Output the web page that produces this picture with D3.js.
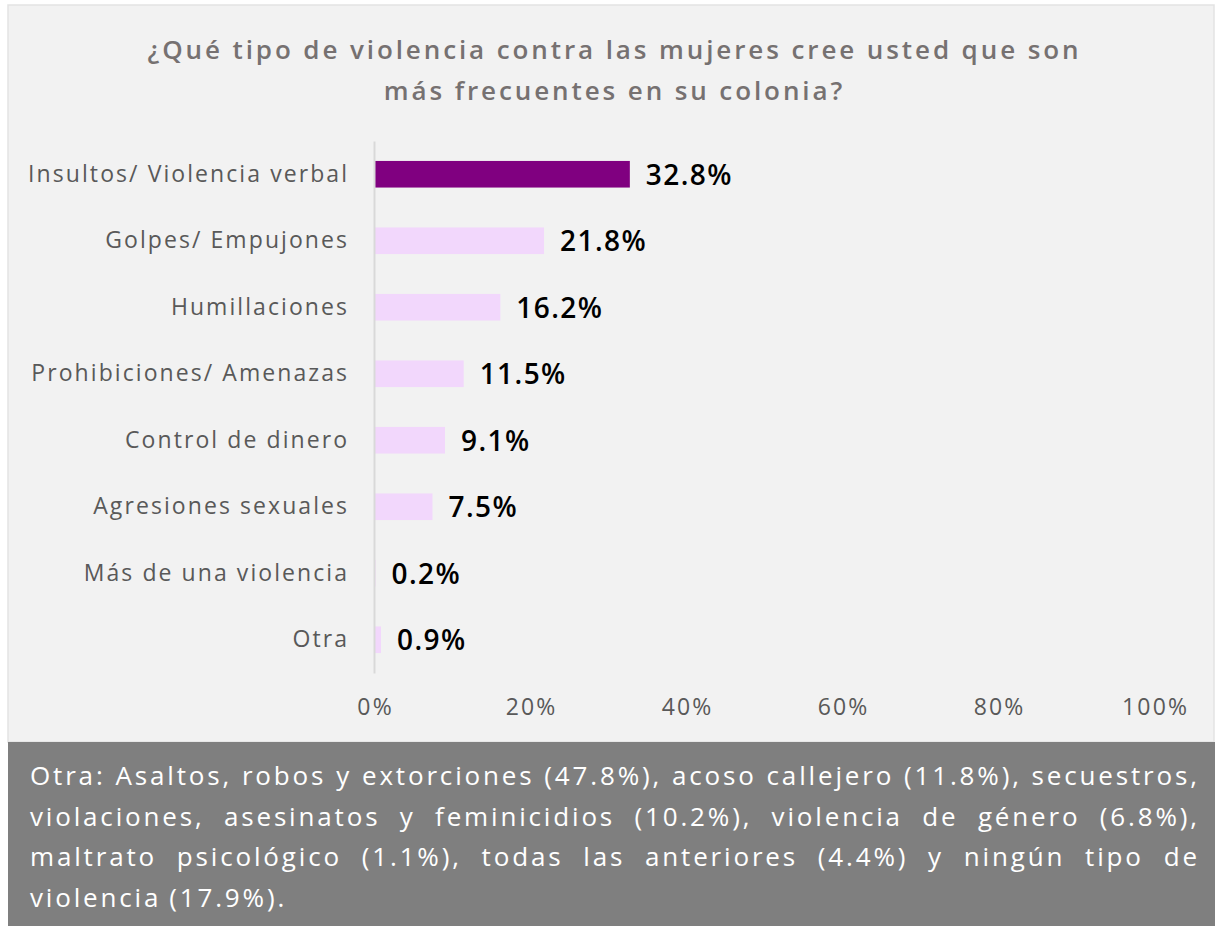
<!DOCTYPE html>
<html>
<head>
<meta charset="utf-8">
<script src="https://cdn.jsdelivr.net/npm/d3@7"></script>
<style>
  body { margin: 0; background: #fff; }
  svg { display: block; }
</style>
</head>
<body>
<div id="chart"></div>
<script>
// data
var categories = ["Insultos/ Violencia verbal", "Golpes/ Empujones", "Humillaciones",
  "Prohibiciones/ Amenazas", "Control de dinero", "Agresiones sexuales",
  "Más de una violencia", "Otra"];
var values = [32.8, 21.8, 16.2, 11.5, 9.1, 7.5, 0.2, 0.9];
var xTicks = [0, 20, 40, 60, 80, 100];
var titleLines = ["¿Qué tipo de violencia contra las mujeres cree usted que son",
  "más frecuentes en su colonia?"];
var noteLines = [
  "Otra: Asaltos, robos y extorciones (47.8%), acoso callejero (11.8%), secuestros,",
  "violaciones, asesinatos y feminicidios (10.2%), violencia de género (6.8%),",
  "maltrato psicológico (1.1%), todas las anteriores (4.4%) y ningún tipo de",
  "violencia (17.9%)."
];

var W = 1215, H = 926;
var font = "'Open Sans', 'Noto Sans', sans-serif";

var svg = d3.select("#chart").append("svg")
  .attr("width", W)
  .attr("height", H);

// the original font is wider than anything installed, so spread letters
// until a sample string has the width it has in the picture
function spacingFor(sample, size, weight, target) {
  var t = svg.append("text")
    .attr("font-family", font)
    .attr("font-size", size)
    .attr("font-weight", weight)
    .text(sample);
  var w = t.node().getComputedTextLength();
  t.remove();
  return (target - w) / sample.length;
}

var lsTitle = spacingFor(titleLines[0], "26px", 600, 934);
var lsCat = spacingFor(categories[0], "23px", 400, 321);
var lsVal = spacingFor("32.8%", "28px", 600, 87);
var lsTick = spacingFor("100%", "23px", 400, 67);
var lsNote = spacingFor(noteLines[0], "26px", 400, 1167);

// panel background
svg.append("rect")
  .attr("x", 8).attr("y", 5)
  .attr("width", W - 9).attr("height", 737)
  .attr("fill", "#f2f2f2")
  .attr("stroke", "#e3e3e3")
  .attr("stroke-width", 1.5);

// title
svg.append("g").selectAll("text")
  .data(titleLines)
  .enter().append("text")
  .attr("x", 613 + lsTitle / 2)
  .attr("y", function(d, i) { return 59 + i * 41; })
  .attr("text-anchor", "middle")
  .attr("font-family", font)
  .attr("font-size", "26px")
  .attr("font-weight", 600)
  .attr("letter-spacing", lsTitle + "px")
  .attr("fill", "#767171")
  .text(function(d) { return d; });

// scales
var x = d3.scaleLinear()
  .domain([0, 100])
  .range([374, 1154]);

var y = d3.scaleBand()
  .domain(categories)
  .range([141, 673])
  .paddingInner(0.6)
  .paddingOuter(0.3);

// bars
svg.append("g").selectAll("rect")
  .data(values)
  .enter().append("rect")
  .attr("x", x(0))
  .attr("y", function(d, i) { return y(categories[i]); })
  .attr("width", function(d) { return x(d) - x(0); })
  .attr("height", y.bandwidth())
  .attr("fill", function(d, i) { return i == 0 ? "#800080" : "#f2d7fc"; });

// value labels
svg.append("g").selectAll("text")
  .data(values)
  .enter().append("text")
  .attr("x", function(d) { return x(d) + 16; })
  .attr("y", function(d, i) { return y(categories[i]) + y.bandwidth() / 2; })
  .attr("dy", "0.37em")
  .attr("font-family", font)
  .attr("font-size", "28px")
  .attr("font-weight", 600)
  .attr("letter-spacing", lsVal + "px")
  .attr("fill", "#000")
  .text(function(d) { return d.toFixed(1) + "%"; });

// y axis (categories)
var yAxis = svg.append("g")
  .attr("transform", "translate(" + x(0) + ",0)")
  .call(d3.axisLeft(y).tickSize(0).tickPadding(27 - lsCat));
yAxis.select(".domain")
  .attr("stroke", "#d9d9d9")
  .attr("stroke-width", 2);
yAxis.selectAll("text")
  .attr("font-family", font)
  .attr("font-size", "23px")
  .attr("letter-spacing", lsCat + "px")
  .attr("fill", "#595959");

// x axis (no line)
var xAxis = svg.append("g")
  .attr("transform", "translate(" + (lsTick / 2) + ",696)")
  .call(d3.axisBottom(x).tickValues(xTicks).tickSize(0)
    .tickFormat(function(d) { return d + "%"; }));
xAxis.select(".domain").remove();
xAxis.selectAll("text")
  .attr("font-family", font)
  .attr("font-size", "23px")
  .attr("letter-spacing", lsTick + "px")
  .attr("fill", "#595959");

// footer note
svg.append("rect")
  .attr("x", 8).attr("y", 742)
  .attr("width", W - 8).attr("height", H - 742)
  .attr("fill", "#7f7f7f");

var noteLeft = 30, noteRight = 1197 + lsNote;
noteLines.forEach(function(line, i) {
  var ly = 785 + i * 40.7;
  var words = line.split(" ");
  var g = svg.append("g");
  var texts = words.map(function(w) {
    return g.append("text")
      .attr("y", ly)
      .attr("font-family", font)
      .attr("font-size", "26px")
      .attr("letter-spacing", lsNote + "px")
      .attr("fill", "#fff")
      .text(w);
  });
  var widths = texts.map(function(t) { return t.node().getComputedTextLength(); });
  var total = d3.sum(widths);
  var last = i == noteLines.length - 1;
  var gap = last ? 8 : (noteRight - noteLeft - total) / (words.length - 1);
  var cx = noteLeft;
  texts.forEach(function(t, k) {
    t.attr("x", cx);
    cx += widths[k] + gap;
  });
});
</script>
</body>
</html>
